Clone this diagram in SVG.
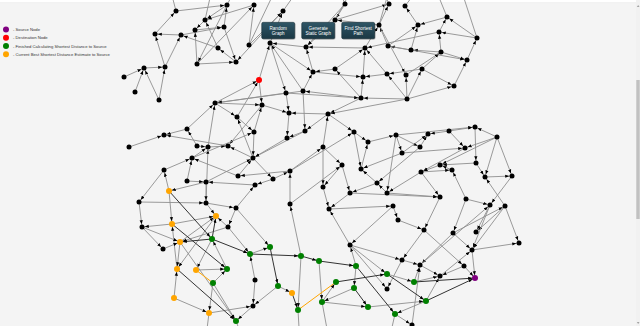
<svg xmlns="http://www.w3.org/2000/svg" width="640" height="326" viewBox="0 0 640 326">
<style>
.e{stroke:#8f8f8f;stroke-width:0.9;marker-end:url(#ar)}
.x{stroke:#8f8f8f;stroke-width:0.9}
.d{stroke:#333;stroke-width:1;marker-end:url(#ar)}
.o{stroke:#ffa500;stroke-width:1}
.k circle{fill:#000}
.g circle{fill:#008000}
.y circle{fill:#ffa500}
.r circle{fill:#ff0000}
.p circle{fill:#800080}
.lg{font-family:"Liberation Sans",Arial,sans-serif;font-size:4.2px;fill:#333}
.bt{font-family:"Liberation Sans",Arial,sans-serif;font-size:4.6px;fill:#fff;text-anchor:middle}
.btn{fill:url(#bg);stroke:#10262f;stroke-width:0.5}
</style>
<defs>
<marker id="ar" markerUnits="userSpaceOnUse" markerWidth="4" markerHeight="4" viewBox="0 0 10 10" refX="17" refY="5" orient="auto"><path d="M0,1 L10,5 L0,9 z" fill="#000"/></marker>
<linearGradient id="bg" x1="0" y1="0" x2="0" y2="1"><stop offset="0" stop-color="#2f5666"/><stop offset="1" stop-color="#1b3844"/></linearGradient>
</defs>
<rect width="640" height="326" fill="#f4f4f4"/>
<rect width="636" height="2.5" fill="#fff"/>
<line x1="0" y1="2.6" x2="636" y2="2.6" stroke="#e2e2e2" stroke-width="0.4"/>
<g id="edges">
<line class="e" x1="176" y1="11" x2="227" y2="5"/>
<line class="e" x1="155" y1="34" x2="176" y2="11"/>
<line class="e" x1="181" y1="35" x2="155" y2="34"/>
<line class="e" x1="165" y1="67" x2="155" y2="34"/>
<line class="e" x1="181" y1="35" x2="224" y2="27"/>
<line class="e" x1="165" y1="67" x2="181" y2="35"/>
<line class="e" x1="144" y1="68" x2="165" y2="67"/>
<line class="e" x1="124" y1="77" x2="144" y2="68"/>
<line class="e" x1="135" y1="92" x2="144" y2="68"/>
<line class="e" x1="159" y1="100" x2="144" y2="68"/>
<line class="e" x1="159" y1="100" x2="165" y2="67"/>
<line class="e" x1="205" y1="20" x2="195" y2="30"/>
<line class="e" x1="197" y1="64" x2="195" y2="30"/>
<line class="e" x1="227" y1="5" x2="205" y2="20"/>
<line class="e" x1="254" y1="5" x2="205" y2="20"/>
<line class="e" x1="218" y1="48" x2="205" y2="20"/>
<line class="e" x1="224" y1="27" x2="236" y2="62"/>
<line class="e" x1="197" y1="64" x2="236" y2="62"/>
<line class="e" x1="227" y1="5" x2="197" y2="64"/>
<line class="e" x1="197" y1="64" x2="254" y2="5"/>
<line class="e" x1="218" y1="48" x2="181" y2="35"/>
<line class="e" x1="236" y1="62" x2="218" y2="48"/>
<line class="e" x1="283" y1="11" x2="236" y2="62"/>
<line class="e" x1="249" y1="45" x2="283" y2="11"/>
<line class="e" x1="249" y1="45" x2="254" y2="5"/>
<line class="e" x1="195" y1="30" x2="224" y2="27"/>
<line class="e" x1="224" y1="27" x2="227" y2="5"/>
<line class="x" x1="176" y1="11" x2="168" y2="-20"/>
<line class="x" x1="205" y1="20" x2="214" y2="-20"/>
<line class="x" x1="283" y1="11" x2="305" y2="-20"/>
<line class="x" x1="249" y1="45" x2="280" y2="-20"/>
<line class="x" x1="227" y1="5" x2="240" y2="-20"/>
<line class="e" x1="259" y1="80" x2="270" y2="43"/>
<line class="e" x1="270" y1="43" x2="286" y2="93"/>
<line class="e" x1="303" y1="91" x2="270" y2="43"/>
<line class="e" x1="270" y1="43" x2="313" y2="72"/>
<line class="e" x1="306" y1="47" x2="270" y2="43"/>
<line class="e" x1="215" y1="103" x2="259" y2="80"/>
<line class="e" x1="259" y1="80" x2="262" y2="105"/>
<line class="e" x1="286" y1="93" x2="215" y2="103"/>
<line class="e" x1="303" y1="91" x2="215" y2="103"/>
<line class="e" x1="237" y1="117" x2="259" y2="80"/>
<line class="e" x1="313" y1="72" x2="306" y2="47"/>
<line class="e" x1="345" y1="4" x2="306" y2="47"/>
<line class="e" x1="335" y1="20" x2="306" y2="47"/>
<line class="e" x1="365" y1="48" x2="306" y2="47"/>
<line class="e" x1="335" y1="69" x2="313" y2="72"/>
<line class="e" x1="313" y1="72" x2="363" y2="77"/>
<line class="e" x1="303" y1="91" x2="313" y2="72"/>
<line class="e" x1="361" y1="98" x2="303" y2="91"/>
<line class="e" x1="335" y1="20" x2="389" y2="4"/>
<line class="e" x1="379" y1="25" x2="335" y2="20"/>
<line class="e" x1="345" y1="4" x2="335" y2="20"/>
<line class="e" x1="379" y1="25" x2="389" y2="4"/>
<line class="e" x1="418" y1="25" x2="405" y2="6"/>
<line class="e" x1="388" y1="46" x2="379" y2="25"/>
<line class="e" x1="365" y1="48" x2="379" y2="25"/>
<line class="e" x1="388" y1="46" x2="418" y2="25"/>
<line class="e" x1="447" y1="17" x2="418" y2="25"/>
<line class="e" x1="477" y1="38" x2="447" y2="17"/>
<line class="e" x1="439" y1="32" x2="447" y2="17"/>
<line class="e" x1="477" y1="38" x2="439" y2="32"/>
<line class="e" x1="441" y1="52" x2="439" y2="32"/>
<line class="e" x1="411" y1="50" x2="418" y2="25"/>
<line class="e" x1="467" y1="60" x2="477" y2="38"/>
<line class="e" x1="441" y1="52" x2="467" y2="60"/>
<line class="e" x1="454" y1="86" x2="467" y2="60"/>
<line class="e" x1="422" y1="69" x2="441" y2="52"/>
<line class="e" x1="406" y1="75" x2="441" y2="52"/>
<line class="e" x1="422" y1="69" x2="454" y2="86"/>
<line class="e" x1="407" y1="99" x2="454" y2="86"/>
<line class="e" x1="441" y1="52" x2="411" y2="50"/>
<line class="e" x1="411" y1="50" x2="388" y2="46"/>
<line class="e" x1="388" y1="46" x2="467" y2="60"/>
<line class="e" x1="363" y1="77" x2="365" y2="48"/>
<line class="e" x1="335" y1="69" x2="365" y2="48"/>
<line class="e" x1="387" y1="74" x2="365" y2="48"/>
<line class="e" x1="379" y1="25" x2="406" y2="75"/>
<line class="e" x1="387" y1="74" x2="363" y2="77"/>
<line class="e" x1="422" y1="69" x2="387" y2="74"/>
<line class="e" x1="361" y1="98" x2="363" y2="77"/>
<line class="e" x1="407" y1="99" x2="387" y2="74"/>
<line class="e" x1="407" y1="99" x2="406" y2="75"/>
<line class="e" x1="407" y1="99" x2="422" y2="69"/>
<line class="e" x1="361" y1="98" x2="335" y2="69"/>
<line class="e" x1="407" y1="99" x2="361" y2="98"/>
<line class="e" x1="286" y1="93" x2="361" y2="98"/>
<line class="e" x1="270" y1="43" x2="283" y2="11"/>
<line class="e" x1="439" y1="32" x2="365" y2="48"/>
<line class="x" x1="345" y1="4" x2="335" y2="-20"/>
<line class="x" x1="389" y1="4" x2="378" y2="-20"/>
<line class="x" x1="405" y1="6" x2="425" y2="-20"/>
<line class="x" x1="447" y1="17" x2="432" y2="-20"/>
<line class="x" x1="477" y1="38" x2="458" y2="-20"/>
<line class="x" x1="335" y1="20" x2="357" y2="-20"/>
<line class="x" x1="379" y1="25" x2="392" y2="-20"/>
<line class="e" x1="215" y1="103" x2="237" y2="117"/>
<line class="e" x1="208" y1="147" x2="215" y2="103"/>
<line class="e" x1="215" y1="103" x2="262" y2="105"/>
<line class="e" x1="262" y1="105" x2="228" y2="146"/>
<line class="e" x1="253" y1="158" x2="237" y2="117"/>
<line class="e" x1="289" y1="113" x2="287" y2="138"/>
<line class="e" x1="262" y1="105" x2="289" y2="113"/>
<line class="e" x1="187" y1="129" x2="164" y2="135"/>
<line class="e" x1="197" y1="146" x2="187" y2="129"/>
<line class="e" x1="129" y1="147" x2="164" y2="135"/>
<line class="e" x1="228" y1="146" x2="164" y2="135"/>
<line class="e" x1="197" y1="146" x2="208" y2="147"/>
<line class="e" x1="208" y1="147" x2="228" y2="146"/>
<line class="e" x1="206" y1="203" x2="208" y2="147"/>
<line class="e" x1="192" y1="158" x2="208" y2="147"/>
<line class="e" x1="253" y1="158" x2="228" y2="146"/>
<line class="e" x1="254" y1="132" x2="253" y2="158"/>
<line class="e" x1="254" y1="132" x2="262" y2="105"/>
<line class="e" x1="192" y1="158" x2="254" y2="132"/>
<line class="e" x1="287" y1="138" x2="253" y2="158"/>
<line class="e" x1="305" y1="131" x2="287" y2="138"/>
<line class="e" x1="305" y1="131" x2="253" y2="158"/>
<line class="e" x1="206" y1="182" x2="253" y2="158"/>
<line class="e" x1="238" y1="176" x2="253" y2="158"/>
<line class="e" x1="253" y1="158" x2="273" y2="179"/>
<line class="e" x1="164" y1="170" x2="192" y2="158"/>
<line class="e" x1="187" y1="181" x2="192" y2="158"/>
<line class="e" x1="238" y1="176" x2="192" y2="158"/>
<line class="e" x1="169" y1="191" x2="164" y2="170"/>
<line class="e" x1="164" y1="170" x2="139" y2="202"/>
<line class="e" x1="187" y1="181" x2="206" y2="182"/>
<line class="e" x1="255" y1="185" x2="206" y2="182"/>
<line class="e" x1="206" y1="182" x2="169" y2="191"/>
<line class="e" x1="206" y1="182" x2="206" y2="203"/>
<line class="e" x1="290" y1="171" x2="238" y2="176"/>
<line class="e" x1="273" y1="179" x2="290" y2="171"/>
<line class="e" x1="290" y1="204" x2="290" y2="171"/>
<line class="e" x1="273" y1="179" x2="255" y2="185"/>
<line class="e" x1="236" y1="208" x2="255" y2="185"/>
<line class="e" x1="139" y1="202" x2="206" y2="203"/>
<line class="e" x1="206" y1="203" x2="236" y2="208"/>
<line class="e" x1="286" y1="93" x2="289" y2="113"/>
<line class="e" x1="303" y1="91" x2="305" y2="131"/>
<line class="e" x1="237" y1="117" x2="254" y2="132"/>
<line class="e" x1="187" y1="129" x2="215" y2="103"/>
<line class="e" x1="361" y1="98" x2="328" y2="114"/>
<line class="e" x1="407" y1="99" x2="328" y2="114"/>
<line class="e" x1="328" y1="114" x2="305" y2="131"/>
<line class="e" x1="328" y1="114" x2="289" y2="113"/>
<line class="e" x1="354" y1="132" x2="368" y2="142"/>
<line class="e" x1="354" y1="132" x2="361" y2="169"/>
<line class="e" x1="368" y1="142" x2="396" y2="135"/>
<line class="e" x1="361" y1="169" x2="368" y2="142"/>
<line class="e" x1="396" y1="135" x2="402" y2="153"/>
<line class="e" x1="396" y1="135" x2="420" y2="147"/>
<line class="e" x1="396" y1="135" x2="387" y2="193"/>
<line class="e" x1="420" y1="147" x2="428" y2="134"/>
<line class="e" x1="402" y1="153" x2="428" y2="134"/>
<line class="e" x1="449" y1="131" x2="428" y2="134"/>
<line class="e" x1="449" y1="131" x2="475" y2="127"/>
<line class="e" x1="497" y1="137" x2="475" y2="127"/>
<line class="e" x1="396" y1="135" x2="475" y2="127"/>
<line class="e" x1="497" y1="137" x2="440" y2="165"/>
<line class="e" x1="497" y1="137" x2="465" y2="148"/>
<line class="e" x1="497" y1="137" x2="512" y2="176"/>
<line class="e" x1="497" y1="137" x2="485" y2="177"/>
<line class="e" x1="465" y1="148" x2="421" y2="172"/>
<line class="e" x1="323" y1="147" x2="342" y2="165"/>
<line class="e" x1="323" y1="147" x2="323" y2="187"/>
<line class="e" x1="342" y1="165" x2="350" y2="193"/>
<line class="e" x1="342" y1="165" x2="323" y2="187"/>
<line class="e" x1="402" y1="153" x2="361" y2="169"/>
<line class="e" x1="420" y1="147" x2="377" y2="183"/>
<line class="e" x1="377" y1="183" x2="361" y2="169"/>
<line class="e" x1="387" y1="193" x2="377" y2="183"/>
<line class="e" x1="377" y1="183" x2="350" y2="193"/>
<line class="e" x1="440" y1="165" x2="421" y2="172"/>
<line class="e" x1="421" y1="172" x2="452" y2="170"/>
<line class="e" x1="452" y1="170" x2="440" y2="165"/>
<line class="e" x1="476" y1="163" x2="440" y2="165"/>
<line class="e" x1="421" y1="172" x2="440" y2="197"/>
<line class="e" x1="421" y1="172" x2="387" y2="193"/>
<line class="e" x1="466" y1="199" x2="452" y2="170"/>
<line class="e" x1="476" y1="163" x2="485" y2="177"/>
<line class="e" x1="485" y1="177" x2="512" y2="176"/>
<line class="e" x1="505" y1="206" x2="485" y2="177"/>
<line class="e" x1="512" y1="176" x2="490" y2="205"/>
<line class="e" x1="323" y1="187" x2="329" y2="209"/>
<line class="e" x1="350" y1="193" x2="440" y2="197"/>
<line class="e" x1="387" y1="193" x2="440" y2="197"/>
<line class="e" x1="402" y1="153" x2="465" y2="148"/>
<line class="e" x1="290" y1="171" x2="323" y2="147"/>
<line class="e" x1="290" y1="204" x2="342" y2="165"/>
<line class="e" x1="328" y1="114" x2="354" y2="132"/>
<line class="e" x1="323" y1="147" x2="328" y2="114"/>
<line class="e" x1="449" y1="131" x2="465" y2="148"/>
<line class="e" x1="475" y1="127" x2="476" y2="163"/>
<line class="e" x1="466" y1="199" x2="490" y2="205"/>
<line class="e" x1="290" y1="171" x2="354" y2="132"/>
<line class="e" x1="172" y1="224" x2="216" y2="216"/>
<line class="e" x1="228" y1="227" x2="216" y2="216"/>
<line class="e" x1="206" y1="203" x2="216" y2="216"/>
<line class="e" x1="180" y1="242" x2="216" y2="216"/>
<line class="e" x1="172" y1="224" x2="142" y2="227"/>
<line class="e" x1="177" y1="269" x2="172" y2="224"/>
<line class="e" x1="142" y1="227" x2="163" y2="249"/>
<line class="e" x1="250" y1="254" x2="270" y2="247"/>
<line class="e" x1="301" y1="256" x2="298" y2="310"/>
<line class="e" x1="255" y1="280" x2="250" y2="254"/>
<line class="e" x1="227" y1="269" x2="212" y2="239"/>
<line class="e" x1="196" y1="270" x2="227" y2="269"/>
<line class="e" x1="213" y1="283" x2="227" y2="269"/>
<line class="e" x1="174" y1="298" x2="177" y2="269"/>
<line class="e" x1="174" y1="298" x2="209" y2="313"/>
<line class="e" x1="213" y1="283" x2="209" y2="313"/>
<line class="e" x1="209" y1="313" x2="253" y2="306"/>
<line class="e" x1="213" y1="283" x2="236" y2="321"/>
<line class="e" x1="255" y1="280" x2="253" y2="306"/>
<line class="e" x1="278" y1="286" x2="292" y2="293"/>
<line class="e" x1="139" y1="202" x2="142" y2="227"/>
<line class="e" x1="142" y1="227" x2="180" y2="242"/>
<line class="e" x1="163" y1="249" x2="180" y2="242"/>
<line class="e" x1="169" y1="191" x2="172" y2="224"/>
<line class="e" x1="236" y1="208" x2="228" y2="227"/>
<line class="e" x1="228" y1="227" x2="180" y2="242"/>
<line class="e" x1="216" y1="216" x2="177" y2="269"/>
<line class="e" x1="180" y1="242" x2="177" y2="269"/>
<line class="e" x1="212" y1="239" x2="196" y2="270"/>
<line class="e" x1="180" y1="242" x2="236" y2="321"/>
<line class="e" x1="253" y1="306" x2="236" y2="321"/>
<line class="e" x1="278" y1="286" x2="253" y2="306"/>
<line class="e" x1="301" y1="256" x2="290" y2="204"/>
<line class="e" x1="236" y1="208" x2="270" y2="247"/>
<line class="e" x1="228" y1="227" x2="250" y2="254"/>
<line class="e" x1="319" y1="261" x2="322" y2="302"/>
<line class="e" x1="356" y1="266" x2="354" y2="288"/>
<line class="e" x1="350" y1="245" x2="387" y2="274"/>
<line class="e" x1="387" y1="274" x2="414" y2="282"/>
<line class="e" x1="354" y1="288" x2="322" y2="302"/>
<line class="e" x1="322" y1="302" x2="336" y2="282"/>
<line class="e" x1="322" y1="302" x2="368" y2="307"/>
<line class="e" x1="368" y1="307" x2="426" y2="301"/>
<line class="e" x1="426" y1="301" x2="395" y2="314"/>
<line class="e" x1="350" y1="245" x2="402" y2="260"/>
<line class="e" x1="402" y1="260" x2="420" y2="265"/>
<line class="e" x1="424" y1="230" x2="402" y2="260"/>
<line class="e" x1="402" y1="260" x2="387" y2="289"/>
<line class="e" x1="420" y1="265" x2="440" y2="276"/>
<line class="e" x1="453" y1="233" x2="420" y2="265"/>
<line class="e" x1="398" y1="220" x2="424" y2="230"/>
<line class="e" x1="424" y1="230" x2="464" y2="266"/>
<line class="e" x1="466" y1="199" x2="453" y2="233"/>
<line class="e" x1="505" y1="206" x2="476" y2="232"/>
<line class="e" x1="490" y1="205" x2="476" y2="232"/>
<line class="e" x1="472" y1="250" x2="519" y2="243"/>
<line class="e" x1="505" y1="206" x2="472" y2="250"/>
<line class="e" x1="490" y1="205" x2="472" y2="250"/>
<line class="e" x1="453" y1="233" x2="472" y2="250"/>
<line class="e" x1="472" y1="250" x2="475" y2="278"/>
<line class="e" x1="464" y1="266" x2="440" y2="276"/>
<line class="e" x1="414" y1="282" x2="440" y2="276"/>
<line class="e" x1="395" y1="314" x2="412" y2="325"/>
<line class="e" x1="412" y1="325" x2="420" y2="265"/>
<line class="e" x1="393" y1="206" x2="398" y2="220"/>
<line class="e" x1="329" y1="209" x2="393" y2="206"/>
<line class="e" x1="350" y1="193" x2="329" y2="209"/>
<line class="e" x1="350" y1="245" x2="329" y2="209"/>
<line class="e" x1="464" y1="266" x2="475" y2="278"/>
<line class="e" x1="505" y1="206" x2="519" y2="243"/>
<line class="e" x1="440" y1="197" x2="424" y2="230"/>
<line class="e" x1="356" y1="266" x2="350" y2="245"/>
<line class="e" x1="414" y1="282" x2="420" y2="265"/>
<line class="e" x1="426" y1="301" x2="440" y2="276"/>
<line class="e" x1="453" y1="233" x2="505" y2="206"/>
<line class="e" x1="420" y1="265" x2="490" y2="205"/>
<line class="e" x1="440" y1="276" x2="472" y2="250"/>
<line class="e" x1="393" y1="206" x2="350" y2="245"/>
<line class="e" x1="350" y1="245" x2="387" y2="289"/>
<line class="x" x1="236" y1="321" x2="245" y2="345"/>
<line class="x" x1="412" y1="325" x2="418" y2="345"/>
<line class="x" x1="298" y1="310" x2="300" y2="345"/>
<line class="x" x1="209" y1="313" x2="205" y2="345"/>
<line class="x" x1="322" y1="302" x2="330" y2="345"/>
<line class="x" x1="395" y1="314" x2="388" y2="345"/>
<line class="d" x1="212" y1="239" x2="216" y2="216"/>
<line class="d" x1="212" y1="239" x2="180" y2="242"/>
<line class="d" x1="212" y1="239" x2="250" y2="254"/>
<line class="d" x1="270" y1="247" x2="278" y2="286"/>
<line class="d" x1="250" y1="254" x2="301" y2="256"/>
<line class="d" x1="301" y1="256" x2="319" y2="261"/>
<line class="d" x1="177" y1="269" x2="236" y2="321"/>
<line class="d" x1="292" y1="293" x2="298" y2="310"/>
<line class="d" x1="169" y1="191" x2="212" y2="239"/>
<line class="d" x1="172" y1="224" x2="227" y2="269"/>
<line class="d" x1="336" y1="282" x2="387" y2="274"/>
<line class="d" x1="319" y1="261" x2="356" y2="266"/>
<line class="d" x1="356" y1="266" x2="395" y2="314"/>
<line class="d" x1="387" y1="274" x2="426" y2="301"/>
<line class="d" x1="414" y1="282" x2="475" y2="278"/>
<line class="d" x1="426" y1="301" x2="475" y2="278"/>
<line class="d" x1="354" y1="288" x2="368" y2="307"/>
<line class="o" x1="196" y1="270" x2="213" y2="283"/>
<line class="o" x1="336" y1="282" x2="298" y2="310"/>
</g>
<g id="nodes">
<g id="n1" class="k"><circle cx="176" cy="11" r="2.5"/></g>
<g id="n2" class="k"><circle cx="227" cy="5" r="2.5"/></g>
<g id="n3" class="k"><circle cx="254" cy="5" r="2.5"/></g>
<g id="n4" class="k"><circle cx="205" cy="20" r="2.5"/></g>
<g id="n5" class="k"><circle cx="195" cy="30" r="2.5"/></g>
<g id="n6" class="k"><circle cx="224" cy="27" r="2.5"/></g>
<g id="n7" class="k"><circle cx="181" cy="35" r="2.5"/></g>
<g id="n8" class="k"><circle cx="155" cy="34" r="2.5"/></g>
<g id="n9" class="k"><circle cx="218" cy="48" r="2.5"/></g>
<g id="n10" class="k"><circle cx="249" cy="45" r="2.5"/></g>
<g id="n11" class="k"><circle cx="236" cy="62" r="2.5"/></g>
<g id="n12" class="k"><circle cx="197" cy="64" r="2.5"/></g>
<g id="n13" class="k"><circle cx="283" cy="11" r="2.5"/></g>
<g id="n14" class="k"><circle cx="165" cy="67" r="2.5"/></g>
<g id="n15" class="k"><circle cx="144" cy="68" r="2.5"/></g>
<g id="n16" class="k"><circle cx="124" cy="77" r="2.5"/></g>
<g id="n17" class="k"><circle cx="135" cy="92" r="2.5"/></g>
<g id="n18" class="k"><circle cx="159" cy="100" r="2.5"/></g>
<g id="n19" class="k"><circle cx="270" cy="43" r="2.5"/></g>
<g id="n20" class="k"><circle cx="306" cy="47" r="2.5"/></g>
<g id="n21" class="k"><circle cx="313" cy="72" r="2.5"/></g>
<g id="n22" class="r"><circle cx="259" cy="80" r="3"/></g>
<g id="n23" class="k"><circle cx="286" cy="93" r="2.5"/></g>
<g id="n24" class="k"><circle cx="303" cy="91" r="2.5"/></g>
<g id="n25" class="k"><circle cx="215" cy="103" r="2.5"/></g>
<g id="n26" class="k"><circle cx="262" cy="105" r="2.5"/></g>
<g id="n27" class="k"><circle cx="345" cy="4" r="2.5"/></g>
<g id="n28" class="k"><circle cx="389" cy="4" r="2.5"/></g>
<g id="n29" class="k"><circle cx="405" cy="6" r="2.5"/></g>
<g id="n30" class="k"><circle cx="335" cy="20" r="2.5"/></g>
<g id="n31" class="k"><circle cx="379" cy="25" r="2.5"/></g>
<g id="n32" class="k"><circle cx="418" cy="25" r="2.5"/></g>
<g id="n33" class="k"><circle cx="447" cy="17" r="2.5"/></g>
<g id="n34" class="k"><circle cx="439" cy="32" r="2.5"/></g>
<g id="n35" class="k"><circle cx="477" cy="38" r="2.5"/></g>
<g id="n36" class="k"><circle cx="365" cy="48" r="2.5"/></g>
<g id="n37" class="k"><circle cx="388" cy="46" r="2.5"/></g>
<g id="n38" class="k"><circle cx="411" cy="50" r="2.5"/></g>
<g id="n39" class="k"><circle cx="441" cy="52" r="2.5"/></g>
<g id="n40" class="k"><circle cx="467" cy="60" r="2.5"/></g>
<g id="n41" class="k"><circle cx="335" cy="69" r="2.5"/></g>
<g id="n42" class="k"><circle cx="363" cy="77" r="2.5"/></g>
<g id="n43" class="k"><circle cx="387" cy="74" r="2.5"/></g>
<g id="n44" class="k"><circle cx="406" cy="75" r="2.5"/></g>
<g id="n45" class="k"><circle cx="422" cy="69" r="2.5"/></g>
<g id="n46" class="k"><circle cx="454" cy="86" r="2.5"/></g>
<g id="n47" class="k"><circle cx="361" cy="98" r="2.5"/></g>
<g id="n48" class="k"><circle cx="407" cy="99" r="2.5"/></g>
<g id="n49" class="k"><circle cx="237" cy="117" r="2.5"/></g>
<g id="n50" class="k"><circle cx="289" cy="113" r="2.5"/></g>
<g id="n51" class="k"><circle cx="187" cy="129" r="2.5"/></g>
<g id="n52" class="k"><circle cx="164" cy="135" r="2.5"/></g>
<g id="n53" class="k"><circle cx="129" cy="147" r="2.5"/></g>
<g id="n54" class="k"><circle cx="197" cy="146" r="2.5"/></g>
<g id="n55" class="k"><circle cx="208" cy="147" r="2.5"/></g>
<g id="n56" class="k"><circle cx="228" cy="146" r="2.5"/></g>
<g id="n57" class="k"><circle cx="254" cy="132" r="2.5"/></g>
<g id="n58" class="k"><circle cx="287" cy="138" r="2.5"/></g>
<g id="n59" class="k"><circle cx="305" cy="131" r="2.5"/></g>
<g id="n60" class="k"><circle cx="253" cy="158" r="2.5"/></g>
<g id="n61" class="k"><circle cx="192" cy="158" r="2.5"/></g>
<g id="n62" class="k"><circle cx="164" cy="170" r="2.5"/></g>
<g id="n63" class="k"><circle cx="187" cy="181" r="2.5"/></g>
<g id="n64" class="k"><circle cx="206" cy="182" r="2.5"/></g>
<g id="n65" class="k"><circle cx="238" cy="176" r="2.5"/></g>
<g id="n66" class="k"><circle cx="290" cy="171" r="2.5"/></g>
<g id="n67" class="k"><circle cx="273" cy="179" r="2.5"/></g>
<g id="n68" class="k"><circle cx="255" cy="185" r="2.5"/></g>
<g id="n69" class="y"><circle cx="169" cy="191" r="3"/></g>
<g id="n70" class="k"><circle cx="139" cy="202" r="2.5"/></g>
<g id="n71" class="k"><circle cx="206" cy="203" r="2.5"/></g>
<g id="n72" class="k"><circle cx="236" cy="208" r="2.5"/></g>
<g id="n73" class="k"><circle cx="290" cy="204" r="2.5"/></g>
<g id="n74" class="k"><circle cx="328" cy="114" r="2.5"/></g>
<g id="n75" class="k"><circle cx="354" cy="132" r="2.5"/></g>
<g id="n76" class="k"><circle cx="368" cy="142" r="2.5"/></g>
<g id="n77" class="k"><circle cx="396" cy="135" r="2.5"/></g>
<g id="n78" class="k"><circle cx="428" cy="134" r="2.5"/></g>
<g id="n79" class="k"><circle cx="449" cy="131" r="2.5"/></g>
<g id="n80" class="k"><circle cx="475" cy="127" r="2.5"/></g>
<g id="n81" class="k"><circle cx="497" cy="137" r="2.5"/></g>
<g id="n82" class="k"><circle cx="420" cy="147" r="2.5"/></g>
<g id="n83" class="k"><circle cx="402" cy="153" r="2.5"/></g>
<g id="n84" class="k"><circle cx="465" cy="148" r="2.5"/></g>
<g id="n85" class="k"><circle cx="323" cy="147" r="2.5"/></g>
<g id="n86" class="k"><circle cx="342" cy="165" r="2.5"/></g>
<g id="n87" class="k"><circle cx="361" cy="169" r="2.5"/></g>
<g id="n88" class="k"><circle cx="377" cy="183" r="2.5"/></g>
<g id="n89" class="k"><circle cx="421" cy="172" r="2.5"/></g>
<g id="n90" class="k"><circle cx="440" cy="165" r="2.5"/></g>
<g id="n91" class="k"><circle cx="452" cy="170" r="2.5"/></g>
<g id="n92" class="k"><circle cx="476" cy="163" r="2.5"/></g>
<g id="n93" class="k"><circle cx="485" cy="177" r="2.5"/></g>
<g id="n94" class="k"><circle cx="512" cy="176" r="2.5"/></g>
<g id="n95" class="k"><circle cx="323" cy="187" r="2.5"/></g>
<g id="n96" class="k"><circle cx="350" cy="193" r="2.5"/></g>
<g id="n97" class="k"><circle cx="387" cy="193" r="2.5"/></g>
<g id="n98" class="k"><circle cx="440" cy="197" r="2.5"/></g>
<g id="n99" class="k"><circle cx="466" cy="199" r="2.5"/></g>
<g id="n100" class="k"><circle cx="329" cy="209" r="2.5"/></g>
<g id="n101" class="k"><circle cx="393" cy="206" r="2.5"/></g>
<g id="n102" class="k"><circle cx="490" cy="205" r="2.5"/></g>
<g id="n103" class="k"><circle cx="505" cy="206" r="2.5"/></g>
<g id="n104" class="k"><circle cx="398" cy="220" r="2.5"/></g>
<g id="n105" class="y"><circle cx="216" cy="216" r="3"/></g>
<g id="n106" class="k"><circle cx="228" cy="227" r="2.5"/></g>
<g id="n107" class="y"><circle cx="172" cy="224" r="3"/></g>
<g id="n108" class="k"><circle cx="142" cy="227" r="2.5"/></g>
<g id="n109" class="g"><circle cx="212" cy="239" r="3"/></g>
<g id="n110" class="y"><circle cx="180" cy="242" r="3"/></g>
<g id="n111" class="k"><circle cx="163" cy="249" r="2.5"/></g>
<g id="n112" class="g"><circle cx="270" cy="247" r="3"/></g>
<g id="n113" class="g"><circle cx="250" cy="254" r="3"/></g>
<g id="n114" class="g"><circle cx="301" cy="256" r="3"/></g>
<g id="n115" class="g"><circle cx="319" cy="261" r="3"/></g>
<g id="n116" class="y"><circle cx="177" cy="269" r="3"/></g>
<g id="n117" class="y"><circle cx="196" cy="270" r="3"/></g>
<g id="n118" class="g"><circle cx="227" cy="269" r="3"/></g>
<g id="n119" class="g"><circle cx="213" cy="283" r="3"/></g>
<g id="n120" class="k"><circle cx="255" cy="280" r="2.5"/></g>
<g id="n121" class="g"><circle cx="278" cy="286" r="3"/></g>
<g id="n122" class="y"><circle cx="292" cy="293" r="3"/></g>
<g id="n123" class="y"><circle cx="174" cy="298" r="3"/></g>
<g id="n124" class="k"><circle cx="253" cy="306" r="2.5"/></g>
<g id="n125" class="g"><circle cx="298" cy="310" r="3"/></g>
<g id="n126" class="y"><circle cx="209" cy="313" r="3"/></g>
<g id="n127" class="g"><circle cx="236" cy="321" r="3"/></g>
<g id="n129" class="k"><circle cx="424" cy="230" r="2.5"/></g>
<g id="n130" class="k"><circle cx="453" cy="233" r="2.5"/></g>
<g id="n131" class="k"><circle cx="476" cy="232" r="2.5"/></g>
<g id="n132" class="k"><circle cx="519" cy="243" r="2.5"/></g>
<g id="n133" class="k"><circle cx="472" cy="250" r="2.5"/></g>
<g id="n134" class="k"><circle cx="350" cy="245" r="2.5"/></g>
<g id="n135" class="k"><circle cx="402" cy="260" r="2.5"/></g>
<g id="n136" class="k"><circle cx="420" cy="265" r="2.5"/></g>
<g id="n137" class="k"><circle cx="464" cy="266" r="2.5"/></g>
<g id="n138" class="k"><circle cx="440" cy="276" r="2.5"/></g>
<g id="n139" class="p"><circle cx="475" cy="278" r="3"/></g>
<g id="n140" class="g"><circle cx="356" cy="266" r="3"/></g>
<g id="n141" class="g"><circle cx="387" cy="274" r="3"/></g>
<g id="n142" class="g"><circle cx="336" cy="282" r="3"/></g>
<g id="n143" class="g"><circle cx="354" cy="288" r="3"/></g>
<g id="n144" class="g"><circle cx="414" cy="282" r="3"/></g>
<g id="n145" class="k"><circle cx="387" cy="289" r="2.5"/></g>
<g id="n146" class="g"><circle cx="322" cy="302" r="3"/></g>
<g id="n147" class="g"><circle cx="368" cy="307" r="3"/></g>
<g id="n148" class="g"><circle cx="426" cy="301" r="3"/></g>
<g id="n149" class="g"><circle cx="395" cy="314" r="3"/></g>
<g id="n150" class="k"><circle cx="412" cy="325" r="2.5"/></g>
</g>
<g id="buttons">
<rect x="262.5" y="23" width="33" height="16.5" rx="1.5" fill="#000" opacity="0.25"/>
<rect class="btn" x="261.7" y="22.3" width="33" height="16.5" rx="1.5"/>
<text class="bt" x="278.2" y="29.6">Random</text>
<text class="bt" x="278.2" y="34.8">Graph</text>
<rect x="302.5" y="23" width="33" height="16.5" rx="1.5" fill="#000" opacity="0.25"/>
<rect class="btn" x="301.7" y="22.3" width="33" height="16.5" rx="1.5"/>
<text class="bt" x="318.2" y="29.6">Generate</text>
<text class="bt" x="318.2" y="34.8">Static Graph</text>
<rect x="342.5" y="23" width="33" height="16.5" rx="1.5" fill="#000" opacity="0.25"/>
<rect class="btn" x="341.7" y="22.3" width="33" height="16.5" rx="1.5"/>
<text class="bt" x="358.2" y="29.6">Find Shortest</text>
<text class="bt" x="358.2" y="34.8">Path</text>
</g>
<g id="legend">
<circle cx="6" cy="29.5" r="3" fill="#800080"/>
<text class="lg" x="13" y="31">- Source Node</text>
<circle cx="6" cy="37.8" r="3" fill="#ff0000"/>
<text class="lg" x="13" y="39.3">- Destination Node</text>
<circle cx="6" cy="46" r="3" fill="#008000"/>
<text class="lg" x="13" y="47.5">- Finished Calculating Shortest Distance to Source</text>
<circle cx="6" cy="54.3" r="3" fill="#ffa500"/>
<text class="lg" x="13" y="55.8">- Current Best Shortest Distance Estimate to Source</text>
</g>
<g id="scrollbar">
<rect x="636" y="0" width="4" height="326" fill="#f1f1f1"/>
<rect x="636.3" y="80" width="3.4" height="139" fill="#c1c1c1"/>
<polygon points="636.8,7 638.2,5 639.5,7" fill="#a3a3a3"/>
<polygon points="636.8,322 638.2,324 639.5,322" fill="#a3a3a3"/>
</g>
</svg>
